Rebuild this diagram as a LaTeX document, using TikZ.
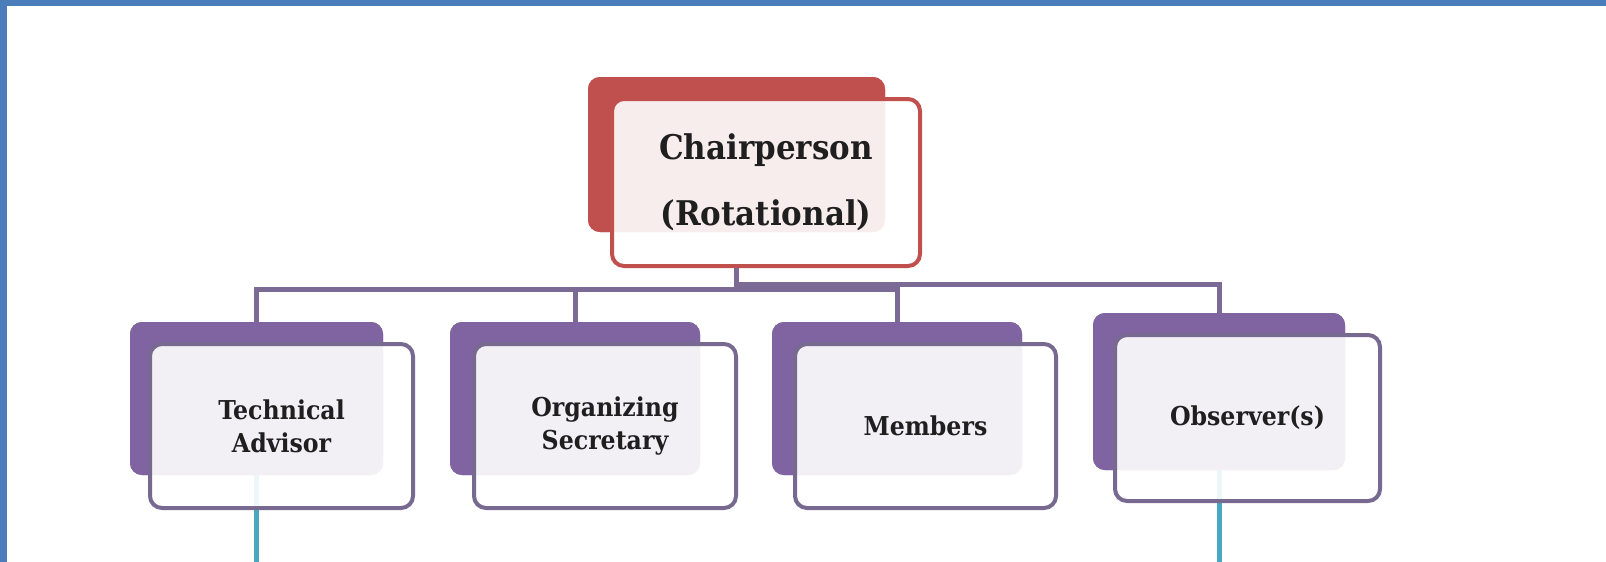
\documentclass[tikz,border=0pt]{standalone}
\usepackage{fontspec}
\setmainfont{DejaVu Serif}
\newfontfamily\boxfont{DejaVu Serif Bold}[FakeStretch=0.91]
\definecolor{bandblue}{HTML}{4A7DB9}
\definecolor{chairred}{HTML}{C0504D}
\definecolor{backpurple}{HTML}{8064A2}
\definecolor{edgepurple}{HTML}{786991}
\definecolor{linkpurple}{HTML}{7A6A95}
\definecolor{tealline}{HTML}{4AA7C0}
\begin{document}
\begin{tikzpicture}[x=1pt,y=-1pt,
  backbox/.style={fill=#1, draw=none, rounded corners=12pt, inner sep=0pt},
  frontbox/.style={draw=#1, line width=4pt, fill=white, fill opacity=0.9, text opacity=1,
    rounded corners=12pt, inner sep=0pt, align=center, text=black!88},
  chairtext/.style={font=\boxfont\fontsize{34}{66}\selectfont},
  childtext/.style={font=\boxfont\fontsize{26}{33}\selectfont},
  link/.style={draw=linkpurple, line width=5pt},
  tealstub/.style={draw=tealline, line width=5pt}]
\useasboundingbox (0,0) rectangle (1606,562);
\fill[white] (0,0) rectangle (1606,562);
% frame bands
\fill[bandblue] (0,0) rectangle (1606,6);
\fill[bandblue] (0,0) rectangle (7,562);

% back boxes
\node[backbox=chairred, minimum width=297pt, minimum height=155pt] (chairB) at (736.5,154.5) {};
\node[backbox=backpurple, minimum width=253pt, minimum height=153pt] (techB) at (256.5,398.5) {};
\node[backbox=backpurple, minimum width=250pt, minimum height=153pt] (orgB) at (575,398.5) {};
\node[backbox=backpurple, minimum width=250pt, minimum height=153pt] (memB) at (897,398.5) {};
\node[backbox=backpurple, minimum width=252pt, minimum height=157pt] (obsB) at (1219,391.5) {};

% connectors
\coordinate (chairOut) at (736.5,266);
\coordinate (barL) at (736.5,289);
\coordinate (barR) at (736.5,284);
\draw[link] (chairOut) -- (barL) -| (techB.north);
\draw[link] (barL) -| (orgB.north);
\draw[link] (barL) -| (memB.north);
\draw[link] (chairOut) -- (barR) -| (obsB.north);

% teal stubs
\coordinate (techEnd) at (256.5,562);
\coordinate (obsEnd) at (1219,562);
\draw[tealstub] (techB.south) -- (techEnd);
\draw[tealstub] (obsB.south) -- (obsEnd);

% redraw back boxes over connector ends
\node[backbox=chairred, minimum width=297pt, minimum height=155pt] at (736.5,154.5) {};
\node[backbox=backpurple, minimum width=253pt, minimum height=153pt] at (256.5,398.5) {};
\node[backbox=backpurple, minimum width=250pt, minimum height=153pt] at (575,398.5) {};
\node[backbox=backpurple, minimum width=250pt, minimum height=153pt] at (897,398.5) {};
\node[backbox=backpurple, minimum width=252pt, minimum height=157pt] at (1219,391.5) {};

% front boxes
\node[frontbox=chairred, minimum width=308pt, minimum height=167pt, chairtext] (chair) at (766,182.5) {Chairperson\\(Rotational)};
\node[frontbox=edgepurple, minimum width=263pt, minimum height=164pt, childtext] (tech) at (281.5,426) {Technical\\Advisor};
\node[frontbox=edgepurple, minimum width=262pt, minimum height=164pt, childtext] (org) at (605,426) {Organizing\\Secretary};
\node[frontbox=edgepurple, minimum width=261pt, minimum height=164pt, childtext] (mem) at (925.5,426) {Members};
\node[frontbox=edgepurple, minimum width=265pt, minimum height=166pt, childtext] (obs) at (1247.5,418) {Observer(s)};
\end{tikzpicture}
\end{document}
